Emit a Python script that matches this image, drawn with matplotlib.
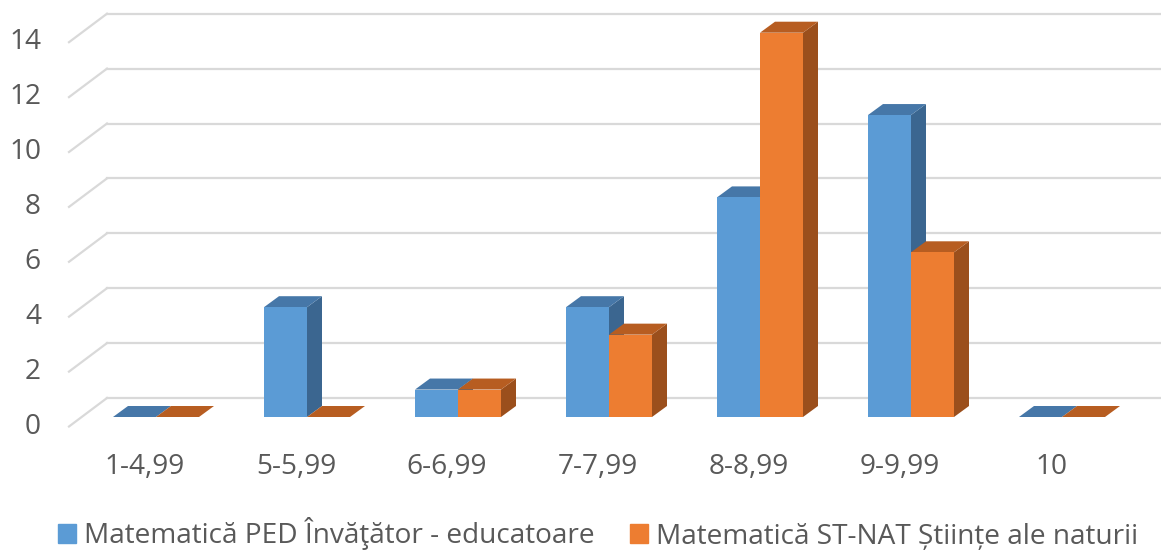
import numpy as np
import matplotlib.pyplot as plt
from matplotlib.patches import Polygon, Patch

plt.rcParams['font.family'] = ['Open Sans', 'DejaVu Sans']

categories = ['1-4,99', '5-5,99', '6-6,99', '7-7,99', '8-8,99', '9-9,99', '10']
ped = [0, 4, 1, 4, 8, 11, 0]
stnat = [0, 0, 1, 3, 14, 6, 0]
labels = ['Matematică PED Învăţător - educatoare', 'Matematică ST-NAT \u0218tiin\u021be ale naturii']
yticks = [0, 2, 4, 6, 8, 10, 12, 14]

# colours: front, top, side
blue = ('#5B9BD5', '#4677A8', '#3B6690')
orange = ('#ED7D31', '#B75D21', '#9B4F1C')
txt = '#595959'
grid = '#D9D9D9'
fs = 20.2

# pixel geometry -> data units
px_x = 151.0   # px per category
px_y = 27.45   # px per unit
x0_px = 156.0
y0_px = 417.0
W, H = 1161, 550

fig = plt.figure(figsize=(W / 100, H / 100), dpi=100)
ax = fig.add_axes([0, 0, 1, 1])
ax.set_xlim(-x0_px / px_x, (W - x0_px) / px_x)
ax.set_ylim(-(H - y0_px) / px_y, y0_px / px_y)
ax.axis('off')

# depth offsets (data units)
bar_dx, bar_dy = 15 / px_x, 11 / px_y
wall_x = (107 - x0_px) / px_x
wall_dy = (y0_px - 398) / px_y
front_x = (69 - x0_px) / px_x
front_dy = -(426.5 - y0_px) / px_y

# gridlines: back wall + floor diagonal
for v in yticks:
    ax.plot([wall_x, ax.get_xlim()[1]], [v + wall_dy, v + wall_dy], color=grid, lw=1.6, zorder=1)
    ax.plot([front_x, wall_x], [v + front_dy, v + wall_dy], color=grid, lw=1.6, zorder=1)
    ax.text((41 - x0_px) / px_x, v + front_dy, str(v), ha='right', va='center',
            fontsize=fs, color=txt)

bw = 43 / px_x
x = np.arange(len(categories))


def bar3d(xl, h, cols, z):
    front, top, side = cols
    ax.add_patch(Polygon([(xl + bw, 0), (xl + bw + bar_dx, bar_dy), (xl + bw + bar_dx, h + bar_dy),
                          (xl + bw, h)], closed=True, fc=side, ec='none', zorder=z))
    ax.add_patch(Polygon([(xl, h), (xl + bar_dx, h + bar_dy), (xl + bw + bar_dx, h + bar_dy),
                          (xl + bw, h)], closed=True, fc=top, ec='none', zorder=z))
    ax.bar(xl, h, width=bw, align='edge', color=front, zorder=z)


z = 2
for i in x:
    bar3d(i - bw, ped[i], blue, z)
    bar3d(i, stnat[i], orange, z + 1)
    z += 2

for i, c in enumerate(categories):
    ax.text(i - 11 / px_x, -(467 - y0_px) / px_y, c, ha='center', va='center',
            fontsize=fs, color=txt)

handles = [Patch(color=blue[0]), Patch(color=orange[0])]
ax.legend(handles, labels, loc='center', bbox_to_anchor=(598 / W, (H - 534) / H), ncol=2,
          frameon=False, fontsize=fs, labelcolor=txt, handlelength=0.64, handleheight=0.64,
          handletextpad=0.3, columnspacing=1.25, borderaxespad=0, borderpad=0)

fig.savefig('out.png', dpi=100)
